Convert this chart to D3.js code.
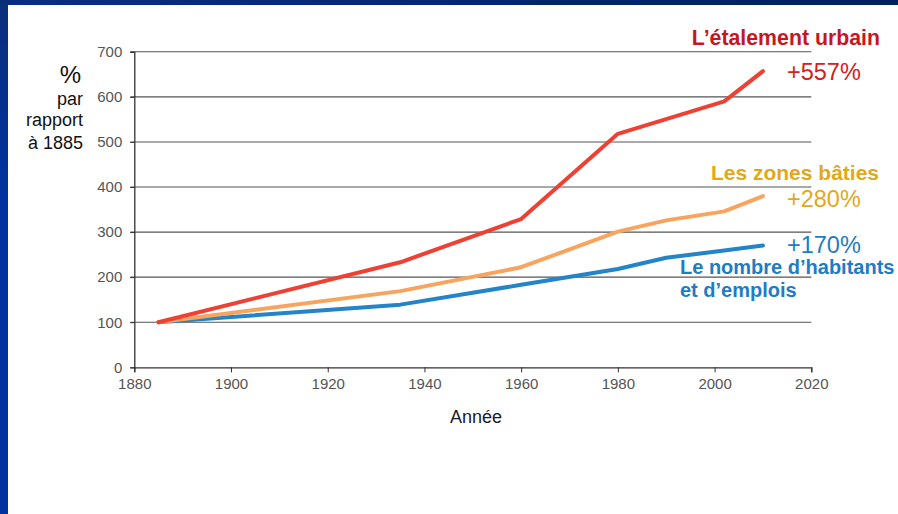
<!DOCTYPE html>
<html>
<head>
<meta charset="utf-8">
<script src="https://cdn.jsdelivr.net/npm/d3@7"></script>
<style>
  html, body { margin: 0; padding: 0; background: #fff; }
  svg { display: block; font-family: "Liberation Sans", Arial, Helvetica, sans-serif; }
</style>
</head>
<body>
<svg id="chart" width="898" height="514"></svg>
<script>
// Growth indices relative to 1885 (= 100)
const yearsSprawl = [1885, 1935, 1960, 1980, 2002, 2010];
const valuesSprawl = [100, 233, 329, 518, 590, 657];

const yearsBuilt = [1885, 1935, 1960, 1980, 1990, 2002, 2010];
const valuesBuilt = [100, 169, 222, 301, 326, 346, 380];

const yearsPop = [1885, 1935, 1960, 1980, 1990, 2002, 2010];
const valuesPop = [100, 139, 183, 218, 243, 259, 270];

const xTicks = [1880, 1900, 1920, 1940, 1960, 1980, 2000, 2020];
const yTicks = [0, 100, 200, 300, 400, 500, 600, 700];

const svg = d3.select("#chart");
const W = 898, H = 514;

// frame: navy band on top, blue band on the left
const defs = svg.append("defs");
const gTop = defs.append("linearGradient").attr("id", "topBand").attr("x1", 0).attr("x2", 1).attr("y1", 0).attr("y2", 0);
gTop.append("stop").attr("offset", 0).attr("stop-color", "#0a2f7a");
gTop.append("stop").attr("offset", 1).attr("stop-color", "#00205e");
const gLeft = defs.append("linearGradient").attr("id", "leftBand").attr("x1", 0).attr("x2", 0).attr("y1", 0).attr("y2", 1);
gLeft.append("stop").attr("offset", 0).attr("stop-color", "#0a2f7a");
gLeft.append("stop").attr("offset", 0.4).attr("stop-color", "#0033a0");
gLeft.append("stop").attr("offset", 1).attr("stop-color", "#0033a0");

svg.append("rect").attr("x", 0).attr("y", 0).attr("width", W).attr("height", H).attr("fill", "#fff");
svg.append("rect").attr("x", 0).attr("y", 0).attr("width", 8).attr("height", H).attr("fill", "url(#leftBand)");
svg.append("rect").attr("x", 0).attr("y", 0).attr("width", W).attr("height", 5).attr("fill", "url(#topBand)");

const x = d3.scaleLinear().domain([1880, 2020]).range([134.3, 811.3]);
const y = d3.scaleLinear().domain([0, 700]).range([367.3, 51.8]);

// horizontal gridlines
svg.append("g")
  .selectAll("line")
  .data(yTicks.filter(v => v > 0))
  .join("line")
  .attr("x1", x(1880) - 4).attr("x2", x(2020))
  .attr("y1", d => y(d)).attr("y2", d => y(d))
  .attr("stroke", "#555").attr("stroke-width", 1.1);

// y axis
const yAxis = svg.append("g")
  .attr("transform", `translate(${x(1880)},0)`)
  .call(d3.axisLeft(y).tickValues(yTicks).tickSize(4).tickPadding(8).tickFormat(d3.format("d")));
yAxis.select(".domain").attr("stroke", "#333").attr("stroke-width", 1.3);
yAxis.selectAll(".tick line").attr("stroke", "#333");
yAxis.selectAll("text").attr("fill", "#555").style("font-size", "15px");

// x axis
const xAxis = svg.append("g")
  .attr("transform", `translate(0,${y(0)})`)
  .call(d3.axisBottom(x).tickValues(xTicks).tickSize(5).tickPadding(6).tickFormat(d3.format("d")));
xAxis.select(".domain").attr("stroke", "#333").attr("stroke-width", 1.3);
xAxis.selectAll(".tick line").attr("stroke", "#333");
xAxis.selectAll("text").attr("fill", "#555").style("font-size", "15px");

// series
const line = d3.line().x(d => x(d[0])).y(d => y(d[1]));
const series = [
  { years: yearsPop, values: valuesPop, color: "#2384c9" },
  { years: yearsBuilt, values: valuesBuilt, color: "#f8a45e" },
  { years: yearsSprawl, values: valuesSprawl, color: "#ee4033" }
];
series.forEach(s => {
  svg.append("path")
    .datum(s.years.map((yr, i) => [yr, s.values[i]]))
    .attr("d", line)
    .attr("fill", "none")
    .attr("stroke", s.color)
    .attr("stroke-width", 4)
    .attr("stroke-linejoin", "round")
    .attr("stroke-linecap", "round");
});

// y axis title
const yt = svg.append("g").attr("text-anchor", "end").attr("fill", "#111");
yt.append("text").attr("x", 81).attr("y", 83).style("font-size", "24px").text("%");
yt.append("text").attr("x", 83).attr("y", 105).style("font-size", "18px").text("par");
yt.append("text").attr("x", 83).attr("y", 126).style("font-size", "18px").text("rapport");
yt.append("text").attr("x", 83).attr("y", 149).style("font-size", "18px").text("à 1885");

// x axis title
svg.append("text").attr("x", 476).attr("y", 423).attr("text-anchor", "middle")
  .attr("fill", "#1a1a2a").style("font-size", "18px").text("Année");

// series annotations
const ann = svg.append("g");
ann.append("text").attr("x", 880).attr("y", 45).attr("text-anchor", "end")
  .attr("fill", "#c8161e").style("font-size", "21.3px").style("font-weight", "bold").text("L’étalement urbain");
ann.append("text").attr("x", 787).attr("y", 80)
  .attr("fill", "#d42020").style("font-size", "23.5px").text("+557%");

ann.append("text").attr("x", 879).attr("y", 180).attr("text-anchor", "end")
  .attr("fill", "#e3a819").style("font-size", "21px").style("font-weight", "bold").text("Les zones bâties");
ann.append("text").attr("x", 787).attr("y", 207)
  .attr("fill", "#e3a819").style("font-size", "23.5px").text("+280%");

ann.append("text").attr("x", 787).attr("y", 253)
  .attr("fill", "#1e7cc4").style("font-size", "23.5px").text("+170%");
ann.append("text").attr("x", 680).attr("y", 274)
  .attr("fill", "#1e7cc4").style("font-size", "20px").style("font-weight", "bold").text("Le nombre d’habitants");
ann.append("text").attr("x", 680).attr("y", 297)
  .attr("fill", "#1e7cc4").style("font-size", "20px").style("font-weight", "bold").text("et d’emplois");
</script>
</body>
</html>
